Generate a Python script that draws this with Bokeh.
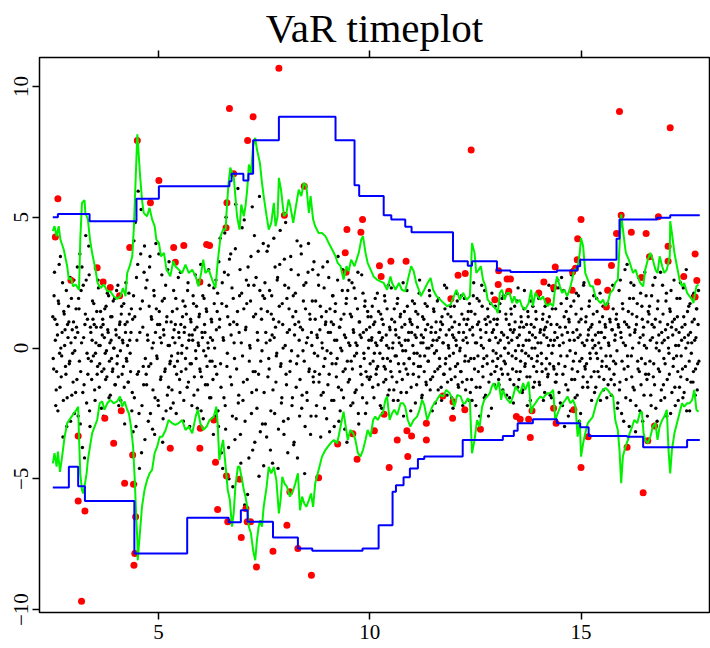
import numpy as np
from bokeh.plotting import figure
from bokeh.models import LinearAxis, FixedTicker, Range1d, CustomJSTickFormatter
from bokeh.embed import file_html
from bokeh.resources import INLINE

# ---------------- data ----------------
seg_bounds = [(2.50, 3.10), (3.10, 3.40), (3.40, 4.40), (4.40, 4.70), (4.70, 5.30),
              (5.30, 6.40), (6.40, 7.50), (7.50, 8.70), (8.70, 10.00), (10.00, 12.40),
              (12.40, 13.00), (13.00, 14.40), (14.40, 15.10), (15.10, 15.90),
              (15.90, 16.60), (16.60, 17.80)]
# returns, first pass through each segment
ret_a = [1.2, -0.8, 2.9, 0.3, -1.6, 0.9, -2.4, 1.7, -0.2, 3.5, -1.1, 0.6, -3.4, 1.4, 0.1,
         -0.7, 2.2, -1.9, 0.4, 1.0, -0.5, -2.8, 1.9, 0.7, -1.3, 2.6, -0.1, -1.7, 0.8, 3.1]
ret_b = [-2.6, 1.5, 3.6, -0.9, 0.2, -3.8, 2.4, -1.4, 0.9, 4.3, -2.1, 1.1, -0.4, 2.8, -3.0]
ret_c = [0.6, -1.2, 1.8, -0.3, 0.9, -2.0, 0.2, 1.4, -0.7, 2.3, -1.5, 0.1, 0.8, -0.9, 1.1,
         -2.6, 0.4, -0.2, 1.6, -1.1, 0.7, 2.0, -0.5, -1.8, 0.3, 1.2, -0.8, 0.0, 1.9, -1.4,
         0.5, -0.6, 2.4, -2.2, 0.9, -0.1, 1.3, -1.0, 0.2, 1.7, -2.9, 0.6, -0.4, 1.0, -1.3,
         2.1, 0.3, -0.9, 1.5, -1.7]
ret_d = [-3.2, 4.1, 1.2, -5.2, 2.7, -1.0, 6.0, -2.5, 0.6, 3.6, -4.0, 1.8, -0.7, 2.9, -3.5]
ret_e = [2.3, -1.4, 0.5, -2.8, 1.6, 3.5, -0.6, 1.1, -3.1, 0.2, 2.0, -1.9, 4.0, -0.3, 0.9,
         -2.2, 1.4, 0.4, -1.1, 2.8, -3.6, 0.7, 1.9, -0.8, -2.4, 1.2, 3.0, -1.5, 0.1, -0.5]
ret_f = [1.0, -1.6, 0.4, 2.2, -0.7, 0.9, -2.5, 1.5, -0.2, 0.6, -1.2, 2.9, -0.9, 0.1, 1.8,
         -2.0, 0.8, -0.4, 1.3, -1.5, 2.5, 0.3, -3.0, 1.1, -0.6, 0.5, 2.0, -1.8, 0.7, -0.1,
         1.6, -2.3, 0.2, 1.2, -0.8, 3.2, -1.1, 0.4, -2.7, 1.9, 0.6, -0.3, 1.4, -1.4, 0.0,
         2.4, -0.5, -1.9, 1.0, 0.3, -3.3, 1.7, -0.7, 2.6, -1.0]
ret_g = [2.1, -3.0, 0.8, 4.2, -1.5, 1.7, -4.6, 0.3, 2.9, -2.2, 5.0, -0.7, 1.2, -3.8, 3.4,
         -1.1, 0.5, 2.3, -5.3, 1.0, -0.4, 3.8, -2.7, 0.9, 6.1, -1.8, 2.0, -3.3, 0.2, 4.6,
         -2.0, 1.5, -6.0, 0.7, 2.6, -1.2, 3.1, -4.2, 0.1, 1.8, -2.5, 5.4, -0.9, 2.4, -3.6,
         1.3, -1.6, 0.6, 3.7, -4.9, 2.2, -0.5, 1.1, -2.9, 4.0]
ret_h = [-1.7, 2.5, 0.6, -3.4, 1.4, 3.9, -0.8, 0.3, -2.4, 2.0, -4.4, 1.1, 0.4, 3.1, -1.3,
         -0.2, 2.7, -3.1, 1.6, 4.5, -0.6, -1.9, 0.9, -2.8, 3.4, 0.1, -1.0, 1.9, -4.0, 2.3,
         0.7, -0.5, 3.0, -2.2, 1.2, -3.7, 0.5, 2.1, -1.5, 4.1, -0.3, 1.0, -2.6, 0.8, 3.6,
         -1.8, -0.1, 2.4, -4.8, 1.5, 0.2, -2.0, 2.9, -0.9, 1.3, -3.3, 0.6, 1.8, -1.1, 3.3]
ret_i = [-0.9, 1.8, -2.2, 0.4, 2.8, -1.3, 0.7, -3.4, 1.2, 0.0, -1.7, 2.3, -0.4, 1.0, -2.7,
         3.3, 0.6, -1.0, 1.5, -0.2, -2.0, 2.0, 0.9, -3.0, 1.4, -0.6, 0.3, 2.6, -1.5, 0.8,
         -2.4, 1.1, -0.1, 3.0, -1.9, 0.5, -0.8, 1.7, -3.6, 2.2, 0.2, -1.2, 1.3, -0.5, 2.5,
         -2.1, 0.6, -0.3, 1.9, -1.6, 0.1, 2.9, -2.9, 1.0, -0.7, 0.4, -1.4, 2.1, -0.2, 1.6,
         -2.5, 0.7, -1.1, 1.2, 0.3]
ret_j = [0.8, -1.1, 0.3, 1.6, -0.5, -1.9, 1.0, 0.2, -0.8, 2.1, -1.4, 0.6, -0.2, 1.3, -2.3,
         0.4, 0.9, -0.7, 1.8, -1.2, 0.1, -0.4, 2.4, -1.6, 0.7, -0.9, 1.1, 0.0, -2.0, 1.5,
         -0.3, 0.5, -1.3, 1.9, -0.6, 0.2, 1.2, -1.7, 0.8, -0.1, -2.6, 1.4, 0.3, -0.8, 2.2,
         -1.0, 0.6, -0.4, 1.0, -1.5, 0.9, 0.1, -0.6, 1.7, -2.1, 0.4, -0.2, 1.3, -1.1, 2.6,
         -0.7, 0.5, -1.8, 0.2, 1.1, -0.3, 0.7, -1.4, 1.6, -0.5, 0.0, 2.0, -1.2, 0.8, -2.4,
         0.3, 1.4, -0.9, 0.6, -0.1, 1.8, -1.6, 0.4, -0.7, 1.0, -2.0, 0.9, 0.2, -1.0, 1.5,
         -0.4, 2.3, -1.3, 0.1, 0.7, -0.8, 1.2, -1.9, 0.5, -0.2, 1.6, -1.1, 0.3, 2.1, -0.6,
         -1.5, 0.9, 0.0, -0.9, 1.3, -2.2, 0.6, 1.9, -0.3, 0.4, -1.2, 1.1, -0.5, 1.7, -1.7]
ret_k = [1.4, -2.0, 0.5, 2.5, -0.8, 0.2, -1.5, 1.9, -0.3, 1.0, -2.6, 0.7, 0.1, 1.6, -1.1,
         -0.4, 2.2, -1.8, 0.9, -0.6, 1.2, -1.3, 0.3, 1.7, -2.3, 0.6, -0.1, 1.1, -0.9, 0.4]
ret_l = [-0.7, 1.1, 0.2, -1.4, 1.7, -0.3, 0.6, -1.0, 2.0, -0.5, 0.0, 1.3, -1.8, 0.4, -0.2,
         0.9, -1.2, 1.5, 0.3, -0.8, -2.1, 0.7, 1.0, -0.4, 1.8, -1.5, 0.1, 0.5, -0.9, 1.2,
         -0.1, -1.6, 0.8, 2.2, -0.6, 0.3, -1.1, 1.4, -0.3, 0.6, -2.0, 0.9, 0.0, 1.6, -0.7,
         -1.3, 0.4, 1.1, -0.5, 0.2, 1.9, -1.4, 0.7, -0.2, -0.9, 1.3, 0.5, -1.7, 0.8, -0.4,
         1.0, -1.0, 2.4, -0.6, 0.3, -1.9, 1.5, 0.1, -0.8, 0.6]
ret_m = [1.5, -1.0, 0.4, 2.3, -1.7, 0.8, -0.3, 2.7, -2.2, 0.2, 1.2, -0.7, -1.4, 1.9, 0.6,
         -2.6, 1.0, -0.1, 1.6, -1.2, 3.0, -0.5, 0.3, -1.9, 1.3, 0.7, -0.9, 2.0, -2.8, 0.5,
         1.1, -0.4, -1.5, 2.4, 0.1]
ret_n = [-0.8, 1.2, 0.3, -1.5, 0.7, 1.8, -0.4, -1.1, 0.9, 0.0, 2.0, -1.7, 0.5, -0.2, 1.4,
         -0.9, 0.2, 1.0, -2.0, 0.6, -0.5, 1.6, -1.2, 0.4, 0.8, -0.7, 2.2, -1.4, 0.1, 1.1,
         -0.3, -1.8, 0.7, 1.5, -1.0, 0.3, -0.6, 1.3, -2.3, 0.9]
ret_o = [2.2, -1.3, 0.6, -2.5, 1.7, 0.2, -0.8, 3.0, -1.9, 0.9, -0.3, 1.4, -3.0, 0.5, 2.5,
         -1.1, 0.0, 1.9, -1.6, 0.7, -2.2, 1.2, -0.5, 2.7, -0.9, 0.4, -1.4, 1.6, -2.8, 0.8,
         0.1, -0.6, 2.0, -1.2, 1.0]
ret_p = [-1.0, 1.6, 0.3, -2.2, 0.9, 2.4, -0.6, -1.4, 1.1, 0.0, -2.8, 1.8, 0.5, -0.9, 2.9,
         -1.6, 0.2, 1.3, -0.4, -1.9, 0.7, 2.1, -1.2, 0.4, -0.2, 1.5, -2.5, 0.8, 1.0, -0.7,
         2.6, -1.5, 0.1, -0.3, 1.2, -2.0, 0.6, 1.9, -1.1, 0.3, -0.8, 2.3, -1.7, 0.9, 0.0,
         -2.4, 1.4, 0.5, -0.5, 1.7, -1.3, 0.2, 2.0, -0.9, 1.1, -1.8, 0.4, 1.5, -0.6, 2.2]
# returns, in-between days of each segment
ret2_a = [-0.4, 2.0, 1.1, -2.2, -0.9, 0.5, 1.8, 3.2, -1.5, 0.0, -0.3, 2.5, -2.0, 1.3, 0.7,
          -1.0, -3.0, 0.9, 1.6, -0.6, 2.7, 0.2, -1.8, -0.2, 1.0, -2.5, 0.4, 1.5, -1.2, 0.6]
ret2_b = [1.9, -0.5, -2.9, 2.2, 3.1, -1.7, 0.4, -4.2, 1.3, 2.6, -0.2, -1.0, 3.9, -2.4, 0.8]
ret2_c = [-0.5, 0.3, 1.1, 1.7, -1.6, -0.2, 0.8, -1.0, 2.6, 0.1, -0.6, 1.4, -2.3, 0.5, 0.9,
          -0.8, 1.5, -1.2, -0.1, 2.1, 0.6, -1.9, 0.2, 1.2, -0.4, -0.9, 1.8, 0.0, -1.4, 0.7,
          2.2, -0.3, -1.1, 0.4, 1.0, -2.0, 1.6, 0.3, -0.7, -1.5, 0.9, 2.5, -0.5, 0.1, -1.3,
          1.3, -0.2, 0.6, -2.4, 1.1]
ret2_d = [2.0, -1.9, 4.8, -3.0, 0.3, 3.2, -0.9, -4.6, 1.5, 5.3, -2.2, 0.8, -1.4, 3.9, -0.4]
ret2_e = [-1.0, 2.6, 0.3, -0.7, 3.1, -2.5, 1.2, 0.0, -1.6, 2.2, -3.3, 0.6, 1.5, -0.4, -2.0,
          3.6, 0.9, -1.2, 0.2, 1.8, -2.7, 0.5, -0.9, 2.4, 1.0, -1.8, 0.1, 3.3, -0.6, -2.3]
ret2_f = [-0.3, 1.4, -2.1, 0.7, 0.2, 1.9, -1.0, -0.5, 2.7, 0.4, -1.7, 0.9, -0.2, 1.2, -2.8,
          0.6, 1.6, -0.8, 0.0, 2.2, -1.3, 0.5, -0.6, 1.0, -2.2, 0.3, 1.7, -1.1, 2.8, -0.4,
          0.8, -1.6, 0.1, 1.3, -0.9, -2.4, 0.6, 2.0, -0.1, 0.9, -1.4, 1.5, -0.7, 0.2, 3.0,
          -1.9, 0.4, 1.1, -0.5, -1.2, 2.3, 0.0, -2.6, 0.7, 1.4]
ret2_g = [-2.4, 3.3, 1.1, -0.6, -4.0, 2.5, 0.4, -1.9, 4.4, -3.1, 1.6, -0.2, 2.8, -5.0, 0.9,
          3.6, -1.4, -2.6, 1.9, 0.2, -3.5, 5.5, -0.8, 1.4, -2.1, 0.6, 3.0, -4.4, 2.1, -0.3,
          -1.3, 4.9, -2.8, 0.8, 1.7, -5.6, 2.4, -0.5, 0.0, 3.5, -1.7, -3.9, 1.2, 4.3, -0.9,
          2.7, -2.3, 0.3, -1.0, 5.8, -3.2, 1.5, -0.1, 2.0, -4.5]
ret2_h = [1.9, -2.9, 0.2, 3.7, -1.1, -0.4, 2.2, -3.9, 1.3, 0.5, -1.6, 4.2, -2.5, 0.8, -0.3,
          2.6, -4.6, 1.0, 3.2, -0.7, -2.1, 1.7, 0.0, -3.3, 2.4, 4.8, -1.4, 0.6, -2.7, 1.5,
          -0.9, 3.5, -0.1, -1.9, 2.0, -3.6, 0.9, 1.4, -0.6, -4.2, 2.8, 0.3, -1.2, 3.9, -2.3,
          0.7, 1.8, -0.5, -3.0, 2.5, -1.7, 0.4, 4.0, -0.8, 1.1, -2.6, 0.1, 3.0, -1.3, -0.2]
ret2_i = [1.1, -2.6, 0.5, -0.3, 2.4, -1.0, 1.6, -1.8, 0.2, 3.1, -0.7, -2.3, 0.9, 1.4, -0.1,
          -1.4, 2.7, -3.2, 0.6, 1.0, -0.6, 2.0, -2.0, 0.3, 1.7, -1.1, -0.4, 3.5, -2.8, 0.8,
          0.0, -1.6, 2.2, -0.9, 1.3, -3.1, 0.4, 1.9, -0.5, -1.3, 2.6, 0.1, -2.2, 1.2, -0.8,
          0.7, 2.3, -1.7, 0.2, -0.2, 1.5, -2.5, 1.0, 0.5, -1.0, 2.8, -1.9, 0.6, -0.4, 1.8,
          -0.9, -2.1, 1.4, 0.0, -1.2]
ret2_j = [-0.6, 1.2, 0.4, -1.5, 0.9, -0.2, 1.9, -1.0, 0.1, -0.7, 1.4, 0.6, -2.2, 0.3, 1.1,
          -0.4, -1.3, 2.0, -0.8, 0.5, 1.5, -1.8, 0.0, 0.8, -0.5, 2.3, -1.1, 0.2, -1.6, 1.0,
          0.7, -0.3, 1.7, -2.0, 0.4, -0.9, 1.3, 0.1, -1.2, 2.5, -0.6, 0.9, -0.1, -1.7, 1.6,
          0.3, -0.4, 1.1, -2.4, 0.6, 1.8, -1.0, -0.2, 0.5, 1.4, -1.4, 0.8, -0.7, 2.1, -0.3,
          0.2, -1.9, 1.2, 0.4, -0.9, 1.7, -1.3, 0.0, 0.9, -0.5, 2.2, -1.6, 0.6, 0.1, -1.1,
          1.5, -0.2, -2.1, 1.0, 0.3, -0.8, 1.9, -0.4, 0.7, -1.5, 1.2, 0.2, -1.0, 2.4, -0.6,
          0.5, -1.8, 1.3, 0.0, -0.3, 1.6, -1.2, 0.8, -2.3, 0.4, 1.0, -0.7, 0.1, 1.8, -1.4,
          0.6, -0.1, -0.9, 2.0, -1.3, 0.3, 1.1, -0.5, -1.6, 0.9, 0.2, 1.4, -2.0, 0.7, -0.4]
ret2_k = [-1.2, 0.8, 2.0, -0.4, 1.3, -2.2, 0.2, 0.9, -0.9, 1.8, -1.5, 0.4, 2.4, -0.7, 0.0,
          -1.9, 1.1, 0.6, -0.3, 1.5, -2.6, 0.3, 1.0, -1.0, 2.1, -0.5, 0.7, -1.4, 1.6, -0.2]
ret2_l = [0.9, -0.4, -1.2, 1.4, 0.3, -0.8, 1.9, -1.6, 0.5, 0.0, -0.6, 1.1, 2.1, -1.0, 0.2,
          -1.9, 0.7, 1.3, -0.3, 0.6, -1.4, 1.6, -0.1, -0.9, 0.4, 2.3, -1.2, 0.8, -0.5, 1.0,
          -1.7, 0.1, 1.5, -0.7, -0.2, 0.9, -2.2, 1.2, 0.3, -1.1, 1.8, -0.4, 0.5, -1.5, 0.8,
          0.0, 1.4, -0.9, -0.3, 2.0, -1.3, 0.6, 0.2, -0.6, 1.1, -2.0, 0.7, 1.6, -0.8, 0.4,
          -1.1, 0.1, 1.2, -1.8, 0.9, -0.2, 2.2, -0.7, 0.3, -1.3]
ret2_m = [-1.3, 0.9, 2.6, -0.6, 0.1, -2.1, 1.7, 0.5, -1.0, 2.2, -3.0, 0.8, 1.4, -0.3, -1.6,
          1.1, 0.3, -2.4, 2.8, -0.8, 0.6, 1.8, -1.2, -0.2, 2.1, -1.8, 0.4, 1.0, -0.5, -2.5,
          1.5, 0.2, -1.1, 2.5, -0.7]
ret2_n = [1.0, -0.6, -1.3, 0.5, 1.6, -0.2, 0.8, -2.0, 0.3, 1.3, -0.9, 0.1, -1.5, 1.9, -0.4,
          0.6, -1.1, 2.1, 0.0, -0.7, 1.2, -1.6, 0.4, 0.9, -0.3, -1.9, 1.7, 0.2, -0.8, 1.0,
          -1.2, 0.7, 2.4, -0.5, -1.4, 0.5, 1.1, -0.1, -2.1, 0.8]
ret2_o = [-1.6, 2.6, 0.4, -0.5, 1.5, -2.8, 1.0, 0.1, -1.2, 3.2, -0.7, 0.8, 1.9, -2.0, -0.3,
          1.3, -1.5, 2.4, 0.6, -3.2, 0.9, 1.7, -0.8, 0.2, -2.4, 2.1, -0.4, 1.1, 0.5, -1.8,
          2.9, -1.0, 0.0, -2.6, 1.4]
ret2_p = [1.3, -0.5, -1.8, 2.0, 0.4, -1.1, 0.8, 2.7, -2.3, 0.2, 1.5, -0.8, -0.1, 1.0, -2.0,
          0.6, 2.4, -1.4, 0.3, -0.6, 1.8, -2.6, 0.9, 0.0, -1.0, 1.4, 2.2, -1.7, 0.5, -0.4,
          1.1, -2.2, 0.7, 1.9, -0.9, 0.1, -1.5, 2.5, -0.3, 0.8, -1.9, 1.2, 0.4, -0.7, 3.0,
          -1.2, 0.2, 1.6, -2.4, 0.6, -0.2, 1.0, -1.3, 2.1, 0.3, -0.8, 1.5, -1.6, 0.9, -0.5]
ret_segments = [ret_a, ret_b, ret_c, ret_d, ret_e, ret_f, ret_g, ret_h, ret_i, ret_j,
                ret_k, ret_l, ret_m, ret_n, ret_o, ret_p]
ret2_segments = [ret2_a, ret2_b, ret2_c, ret2_d, ret2_e, ret2_f, ret2_g, ret2_h, ret2_i,
                 ret2_j, ret2_k, ret2_l, ret2_m, ret2_n, ret2_o, ret2_p]

# GARCH VaR bands (green)
gu_x = [2.50, 2.54, 2.59, 2.64, 2.68, 2.76, 2.84, 2.88, 2.93, 2.98, 3.04, 3.12, 3.15, 3.19,
        3.25, 3.27, 3.33, 3.38, 3.43, 3.51, 3.56, 3.63, 3.71, 3.79, 3.86, 3.94, 4.02, 4.10,
        4.16, 4.22, 4.26, 4.32, 4.38, 4.42, 4.46, 4.50, 4.52, 4.56, 4.61, 4.65, 4.73, 4.79,
        4.85, 4.91, 4.95, 5.01, 5.06, 5.13, 5.19, 5.24, 5.28, 5.35, 5.40, 5.48, 5.56, 5.64,
        5.72, 5.80, 5.88, 5.95, 6.01, 6.06, 6.11, 6.19, 6.27, 6.35, 6.40, 6.47, 6.53, 6.59,
        6.62, 6.66, 6.70, 6.74, 6.78, 6.82, 6.86, 6.92, 6.96, 7.02, 7.06, 7.10, 7.14, 7.19,
        7.24, 7.29, 7.33, 7.40, 7.45, 7.49, 7.56, 7.61, 7.67, 7.73, 7.77, 7.82, 7.85, 7.90,
        7.97, 8.03, 8.08, 8.12, 8.19, 8.24, 8.32, 8.38, 8.44, 8.50, 8.56, 8.60, 8.66, 8.71,
        8.79, 8.87, 8.95, 9.03, 9.11, 9.19, 9.24, 9.31, 9.38, 9.45, 9.50, 9.56, 9.64, 9.74,
        9.80, 9.84, 9.90, 9.95, 10.02, 10.09, 10.17, 10.25, 10.33, 10.41, 10.49, 10.53,
        10.61, 10.69, 10.76, 10.84, 10.92, 10.98, 11.04, 11.10, 11.16, 11.21, 11.29, 11.37,
        11.44, 11.50, 11.58, 11.67, 11.75, 11.83, 11.91, 11.99, 12.05, 12.13, 12.21, 12.29,
        12.37, 12.42, 12.48, 12.52, 12.58, 12.63, 12.68, 12.74, 12.79, 12.86, 12.92, 13.00,
        13.03, 13.08, 13.13, 13.19, 13.25, 13.31, 13.37, 13.42, 13.48, 13.55, 13.60, 13.68,
        13.76, 13.82, 13.86, 13.92, 13.97, 14.04, 14.10, 14.16, 14.21, 14.27, 14.34, 14.39,
        14.43, 14.50, 14.55, 14.61, 14.67, 14.73, 14.79, 14.84, 14.91, 14.97, 15.00, 15.05,
        15.10, 15.16, 15.22, 15.28, 15.34, 15.39, 15.46, 15.52, 15.58, 15.63, 15.69, 15.76,
        15.81, 15.87, 15.91, 15.95, 16.01, 16.06, 16.13, 16.18, 16.23, 16.29, 16.34, 16.40,
        16.47, 16.52, 16.58, 16.64, 16.70, 16.76, 16.81, 16.86, 16.92, 16.97, 17.03, 17.10,
        17.11, 17.15, 17.21, 17.27, 17.33, 17.39, 17.44, 17.51, 17.57, 17.63, 17.66, 17.70,
        17.73, 17.78]
gu_y = [4.47, 4.66, 4.27, 4.66, 4.15, 3.76, 3.13, 2.62, 2.68, 2.36, 2.43, 2.23, 4.15, 5.55,
        5.66, 5.17, 4.92, 4.15, 3.64, 3.00, 2.49, 2.30, 2.43, 2.17, 2.17, 1.98, 1.88, 1.98,
        2.30, 1.98, 2.87, 3.13, 3.51, 4.66, 6.45, 8.17, 7.72, 6.71, 5.68, 5.17, 5.04, 5.36,
        4.92, 4.66, 4.15, 4.02, 3.51, 3.64, 3.00, 2.87, 2.74, 3.32, 3.13, 3.00, 2.87, 3.19,
        2.87, 3.00, 2.74, 2.36, 2.87, 3.38, 2.87, 3.00, 2.62, 2.30, 3.26, 4.28, 4.53, 4.53,
        5.43, 6.32, 6.90, 6.70, 6.58, 5.81, 5.04, 4.53, 5.49, 5.04, 5.43, 6.06, 7.02, 6.70,
        7.72, 8.04, 7.60, 7.09, 6.32, 5.81, 5.04, 4.53, 4.79, 5.55, 4.66, 5.04, 6.51, 6.06,
        5.04, 5.17, 5.68, 5.43, 4.79, 5.30, 6.06, 5.81, 6.32, 6.19, 5.17, 5.81, 4.92, 4.66,
        4.40, 4.40, 4.28, 4.02, 3.77, 3.51, 3.26, 3.13, 2.62, 3.13, 2.94, 3.38, 3.13, 3.64,
        4.15, 4.28, 3.64, 3.26, 3.00, 2.74, 2.62, 2.55, 2.49, 2.23, 2.74, 2.49,
        2.23, 2.49, 2.23, 2.17, 2.74, 3.13, 2.94, 2.49, 2.23, 1.98, 2.23, 2.49,
        2.68, 2.23, 1.98, 1.85, 1.72, 1.60, 1.66, 1.98, 2.23, 1.85, 2.11, 1.85,
        1.98, 4.02, 3.64, 2.87, 3.00, 3.13, 2.62, 2.36, 1.85, 1.72, 1.60, 1.47,
        1.34, 2.11, 2.23, 1.85, 2.11, 2.11, 1.72, 1.98, 1.72, 1.85, 1.60, 1.47,
        1.72, 2.23, 1.60, 2.11, 1.98, 1.85, 1.98, 1.72, 1.60, 1.72, 1.60, 2.36,
        2.74, 2.36, 2.11, 2.23, 1.98, 2.23, 2.62, 3.00, 3.00, 3.64, 4.21, 3.89,
        2.87, 2.62, 2.36, 2.36, 1.98, 1.85, 1.72, 1.85, 1.60, 1.72, 2.11, 2.23,
        2.49, 2.62, 3.89, 5.11, 4.28, 3.64, 3.38, 3.13, 2.87, 3.00, 2.74, 2.49,
        2.36, 3.00, 3.38, 3.64, 3.38, 3.00, 2.87, 3.51, 3.13, 2.87, 3.00, 3.51,
        4.85, 4.40, 3.64, 3.13, 2.62, 2.36, 2.49, 2.11, 1.98, 1.85, 1.72, 2.11,
        2.36, 2.43]

gl_x = [2.50, 2.54, 2.59, 2.62, 2.67, 2.72, 2.78, 2.84, 2.92, 3.00, 3.06, 3.10, 3.12, 3.15,
        3.19, 3.22, 3.25, 3.30, 3.33, 3.38, 3.43, 3.49, 3.55, 3.61, 3.67, 3.72, 3.79, 3.86,
        3.94, 4.02, 4.09, 4.14, 4.20, 4.26, 4.30, 4.35, 4.40, 4.44, 4.47, 4.50, 4.51, 4.56,
        4.61, 4.67, 4.73, 4.79, 4.85, 4.91, 4.97, 5.03, 5.09, 5.17, 5.24, 5.32, 5.40, 5.48,
        5.56, 5.64, 5.72, 5.80, 5.88, 5.93, 5.99, 6.06, 6.14, 6.21, 6.31, 6.37, 6.40, 6.44,
        6.48, 6.53, 6.59, 6.64, 6.69, 6.74, 6.78, 6.82, 6.88, 6.92, 6.98, 7.02, 7.06, 7.10,
        7.14, 7.19, 7.24, 7.29, 7.33, 7.37, 7.41, 7.45, 7.49, 7.56, 7.61, 7.67, 7.73, 7.79,
        7.85, 7.89, 7.93, 7.98, 8.04, 8.11, 8.19, 8.24, 8.30, 8.35, 8.40, 8.45, 8.50, 8.56,
        8.61, 8.66, 8.71, 8.77, 8.81, 8.87, 8.95, 9.01, 9.07, 9.15, 9.23, 9.31, 9.38, 9.42,
        9.48, 9.54, 9.61, 9.66, 9.72, 9.78, 9.84, 9.90, 9.95, 10.02, 10.08, 10.13, 10.19,
        10.25, 10.31, 10.37, 10.41, 10.47, 10.53, 10.58, 10.65, 10.73, 10.79, 10.84, 10.90,
        10.96, 11.04, 11.12, 11.18, 11.24, 11.29, 11.36, 11.42, 11.48, 11.53, 11.59, 11.66,
        11.74, 11.81, 11.89, 11.95, 12.00, 12.07, 12.15, 12.21, 12.26, 12.32, 12.37, 12.42,
        12.48, 12.54, 12.60, 12.66, 12.71, 12.78, 12.84, 12.89, 12.93, 12.99, 13.05, 13.11,
        13.15, 13.21, 13.26, 13.33, 13.39, 13.45, 13.50, 13.56, 13.63, 13.68, 13.76, 13.82,
        13.86, 13.92, 13.97, 14.04, 14.10, 14.16, 14.21, 14.27, 14.34, 14.39, 14.45, 14.51,
        14.57, 14.63, 14.68, 14.75, 14.81, 14.87, 14.92, 14.97, 15.00, 15.05, 15.10, 15.16,
        15.22, 15.28, 15.34, 15.39, 15.46, 15.52, 15.58, 15.63, 15.69, 15.76, 15.81, 15.87,
        15.91, 15.95, 15.99, 16.05, 16.11, 16.15, 16.21, 16.26, 16.33, 16.39, 16.44, 16.48,
        16.52, 16.58, 16.64, 16.70, 16.76, 16.81, 16.86, 16.92, 16.97, 17.03, 17.07, 17.11,
        17.15, 17.21, 17.27, 17.33, 17.39, 17.44, 17.51, 17.57, 17.63, 17.68, 17.73, 17.78]
gl_y = [-4.41, -4.02, -4.53, -3.96, -4.73, -4.15, -3.39, -2.87, -2.68, -2.49, -2.36, -2.24,
        -3.39, -4.79, -5.43, -5.56, -5.30, -4.79, -4.28, -3.77, -3.26, -3.00, -2.75, -2.11,
        -2.04, -2.36, -2.11, -1.98, -2.11, -2.04, -1.85, -2.24, -2.04, -2.36, -2.49, -3.00,
        -3.77, -5.05, -6.32, -7.34, -8.11, -7.09, -6.07, -5.43, -5.05, -4.79, -4.66, -4.02,
        -3.77, -3.39, -3.39, -3.13, -2.75, -2.87, -2.94, -2.87, -2.75, -3.13, -3.00, -3.26,
        -2.62, -2.36, -2.87, -3.13, -3.00, -2.75, -2.62, -2.24, -2.87, -4.28, -3.90, -3.51,
        -4.53, -5.43, -5.81, -6.83, -6.32, -5.30, -4.53, -4.54, -5.05, -5.43, -5.68, -6.07,
        -6.83, -7.09, -7.73, -8.11, -7.35, -6.83, -6.58, -6.83, -6.07, -5.30, -4.54, -4.79,
        -4.54, -5.05, -6.32, -5.81, -4.92, -5.17, -5.30, -5.68, -5.43, -5.17, -4.79, -6.20,
        -5.68, -5.94, -6.07, -5.81, -5.56, -6.07, -5.17, -4.79, -4.54, -4.15, -3.90, -3.77,
        -3.64, -3.51, -3.64, -3.00, -2.43, -2.87, -3.51, -3.13, -3.26, -3.51, -4.02, -4.15,
        -3.90, -3.51, -3.13, -3.39, -2.75, -2.62, -2.75, -2.56, -2.49, -1.98, -1.85, -2.75,
        -2.49, -2.36, -2.56, -2.11, -2.11, -2.24, -2.75, -3.00, -2.75, -2.62, -2.36, -1.98,
        -2.17, -2.75, -2.49, -2.24, -2.11, -1.98, -1.79, -1.85, -1.60, -1.72, -1.92, -2.24,
        -1.79, -1.85, -2.11, -2.11, -1.92, -2.04, -4.02, -3.51, -2.75, -3.00, -2.24, -1.98,
        -1.85, -1.73, -1.47, -1.34, -1.60, -1.28, -1.98, -1.60, -1.85, -1.98, -2.11, -1.85,
        -1.47, -1.60, -1.73, -1.34, -1.60, -1.28, -2.49, -2.24, -2.11, -1.98, -1.85, -1.92,
        -1.79, -1.73, -1.73, -1.60, -2.75, -2.49, -2.24, -2.11, -1.98, -1.85, -2.11, -1.98,
        -2.24, -3.39, -2.75, -4.15, -3.64, -3.26, -2.87, -2.75, -2.62, -2.24, -1.98, -1.73,
        -1.60, -1.53, -1.60, -1.73, -1.85, -2.75, -3.13, -3.90, -5.17, -4.15, -3.77, -3.51,
        -3.26, -3.00, -2.75, -2.87, -2.49, -2.43, -3.26, -3.51, -3.64, -3.39, -3.00, -2.87,
        -3.51, -3.00, -2.75, -2.62, -2.36, -3.90, -4.79, -3.90, -3.26, -2.87, -2.49, -2.11,
        -2.24, -2.11, -2.11, -1.98, -1.60, -2.36, -2.43]

# Stepwise VaR (blue)
bu_x = [2.50, 2.62, 3.37, 4.48, 5.01, 6.68, 6.73, 7.01, 7.13, 7.24, 7.85, 9.19, 9.64, 9.75,
        10.33, 10.51, 10.84, 10.99, 11.97, 12.32, 12.42, 13.01, 13.33, 14.43, 14.91, 14.98,
        15.84, 15.91, 16.80, 17.11, 17.81]
bu_y = [5.00, 5.13, 4.85, 5.71, 6.19, 6.38, 6.67, 6.41, 6.67, 7.95, 8.84, 7.95, 6.23, 5.81,
        5.08, 4.92, 4.64, 4.43, 3.32, 3.15, 3.32, 2.97, 2.91, 2.97, 3.13, 3.38, 4.18, 4.92,
        4.98, 5.08, 5.08]
bl_x = [2.50, 2.88, 3.10, 3.26, 4.43, 5.68, 6.66, 6.95, 7.11, 7.71, 8.30, 8.64, 9.83, 10.21,
        10.54, 10.62, 10.80, 10.95, 11.14, 11.29, 12.20, 13.15, 13.41, 13.50, 13.86, 14.43,
        14.98, 15.18, 16.09, 16.47, 17.51, 17.81]
bl_y = [-5.33, -4.54, -5.28, -5.85, -7.85, -6.49, -6.66, -6.20, -6.64, -7.24, -7.66, -7.75,
        -7.66, -6.77, -5.49, -5.24, -4.94, -4.60, -4.24, -4.15, -3.51, -3.36, -3.16, -2.87,
        -2.72, -2.87, -3.03, -3.36, -3.39, -3.79, -3.51, -3.51]

# Exceedances (red)
ex_x = [2.62, 2.56, 2.93, 3.55, 3.69, 3.86, 4.08, 4.32, 4.50, 4.81, 5.01, 5.36, 5.40, 5.60,
        5.98, 6.14, 6.21, 6.60, 6.62, 6.68, 6.78, 7.11, 7.24, 7.85, 7.98, 8.45, 9.42, 9.44,
        9.46, 9.79, 9.83, 10.23, 10.27, 10.50, 10.86, 11.92, 12.09, 12.26, 12.40, 12.96,
        13.04, 13.05, 13.25, 13.29, 13.33, 14.00, 14.12, 14.21, 14.35, 14.39, 14.79, 14.80,
        14.87, 14.91, 14.92, 15.00, 15.39, 15.60, 15.63, 15.72, 15.84, 15.91, 15.95, 16.19,
        16.43, 16.54, 16.62, 16.83, 17.06, 17.06, 17.11, 17.43, 17.70, 17.74, 17.70,
        3.10, 3.73, 4.12, 3.94, 4.39, 4.20, 4.41, 3.10, 3.26, 4.46, 4.44, 4.42, 3.18, 5.28,
        5.98, 5.99, 6.31, 6.35, 6.61, 6.92, 6.40, 6.64, 6.96, 7.10, 7.07, 7.18, 7.32, 7.71,
        8.04, 8.30, 8.62, 8.11, 8.79, 9.24, 9.60, 9.70, 10.11, 10.34, 10.46, 10.65, 10.88,
        10.99, 10.90, 11.34, 11.34, 11.96, 11.97, 11.73, 12.25, 12.62, 13.47, 13.56, 13.76,
        13.80, 13.84, 14.35, 14.41, 14.83, 15.00, 15.17, 16.09, 16.47, 16.74, 16.58]
ex_y = [5.71, 4.25, 2.59, 3.07, 2.53, 2.32, 2.00, 3.85, 7.94, 5.56, 6.41, 3.85, 3.28, 3.92,
        2.53, 3.96, 3.92, 4.60, 5.56, 9.16, 6.67, 7.94, 8.84, 10.70, 5.08, 6.19, 3.64, 2.90,
        4.53, 4.43, 4.92, 3.15, 2.74, 3.32, 3.32, 1.89, 2.78, 2.85, 7.57, 1.85,
        2.43, 2.96, 2.64, 2.17, 2.64, 2.11, 2.53, 1.81, 2.32, 3.10, 2.21, 2.91,
        3.05, 3.38, 4.18, 4.92, 2.53, 1.57, 2.21, 3.16, 4.38, 9.05, 5.08, 4.43,
        2.70, 4.38, 3.49, 5.02, 3.89, 3.32, 8.42, 2.74, 3.60, 2.58, 1.95,
        -3.36, -2.68, -2.40, -3.64, -4.09, -5.17, -5.21, -5.85, -6.23, -6.45, -7.85, -8.30,
        -9.68, -3.83, -3.83, -3.07, -2.75, -4.37, -4.89, -5.02, -6.17, -6.64, -7.24, -6.64,
        -6.13, -6.64, -8.37, -7.77, -6.77, -7.66, -8.69, -5.49, -4.96, -3.67, -3.28, -4.25,
        -3.16, -2.53, -4.57, -3.51, -3.16, -3.36, -4.15, -2.87, -3.51, -2.68, -2.05, -1.83,
        -2.36, -3.10, -2.62, -2.72, -2.72, -3.42, -2.40, -2.30, -2.87, -2.36, -4.57, -3.39,
        -3.79, -5.53, -2.98, -3.54]

x_ticks = [5, 10, 15]
y_ticks = [-10, -5, 0, 5, 10]

# ---------------- build ----------------
ret_x, ret_y = [], []
for (a, b), vals, vals2 in zip(seg_bounds, ret_segments, ret2_segments):
    n = len(vals)
    ret_x.extend(np.linspace(a, b, n, endpoint=False).tolist())
    ret_y.extend(vals)
    n2 = len(vals2)
    ret_x.extend((np.linspace(a, b, n2, endpoint=False) + (b - a) / n2 / 2).tolist())
    ret_y.extend(vals2)

SERIF = "Liberation Serif"

p = figure(width=710, height=648, output_backend="svg", toolbar_location=None,
           x_range=Range1d(2.185, 18.04), y_range=Range1d(-10.11, 11.11),
           title="VaR timeplot", min_border_left=39, min_border_right=1,
           min_border_top=57, min_border_bottom=36)
p.title.text_font = SERIF
p.title.text_font_size = "41px"
p.title.text_font_style = "normal"
p.title.text_color = "black"
p.title.align = "center"
p.title.standoff = 0

p.grid.visible = False
p.background_fill_color = "white"
p.border_fill_color = "white"
p.outline_line_color = "black"
p.outline_line_width = 1.5

for ax in (p.xaxis[0], p.yaxis[0]):
    ax.axis_line_color = None
    ax.major_tick_in = 0
    ax.major_tick_out = 7
    ax.major_tick_line_width = 1.5
    ax.minor_tick_line_color = None
    ax.major_label_text_font = SERIF
    ax.major_label_text_font_size = "21px"
    ax.major_label_text_color = "black"
p.xaxis[0].major_label_standoff = 5
p.yaxis[0].major_label_standoff = 4
p.xaxis[0].ticker = FixedTicker(ticks=x_ticks)
p.yaxis[0].ticker = FixedTicker(ticks=y_ticks)
p.yaxis[0].major_label_orientation = "vertical"

top = LinearAxis(ticker=FixedTicker(ticks=x_ticks),
                 formatter=CustomJSTickFormatter(code="return ''"))
top.axis_line_color = None
top.major_tick_in = 0
top.major_tick_out = 7
top.major_tick_line_width = 1.5
top.minor_tick_line_color = None
top.major_label_standoff = 0
p.add_layout(top, "above")

p.scatter(ret_x, ret_y, size=3.4, color="black", line_color=None)
p.scatter(ex_x, ex_y, size=7, color="#FF0000", line_color=None)
p.line(gu_x, gu_y, line_color="#00F000", line_width=2)
p.line(gl_x, gl_y, line_color="#00F000", line_width=2)
p.step(bu_x, bu_y, mode="after", line_color="#0000FF", line_width=2)
p.step(bl_x, bl_y, mode="after", line_color="#0000FF", line_width=2)

open("out.html", "w").write(file_html(p, INLINE))
